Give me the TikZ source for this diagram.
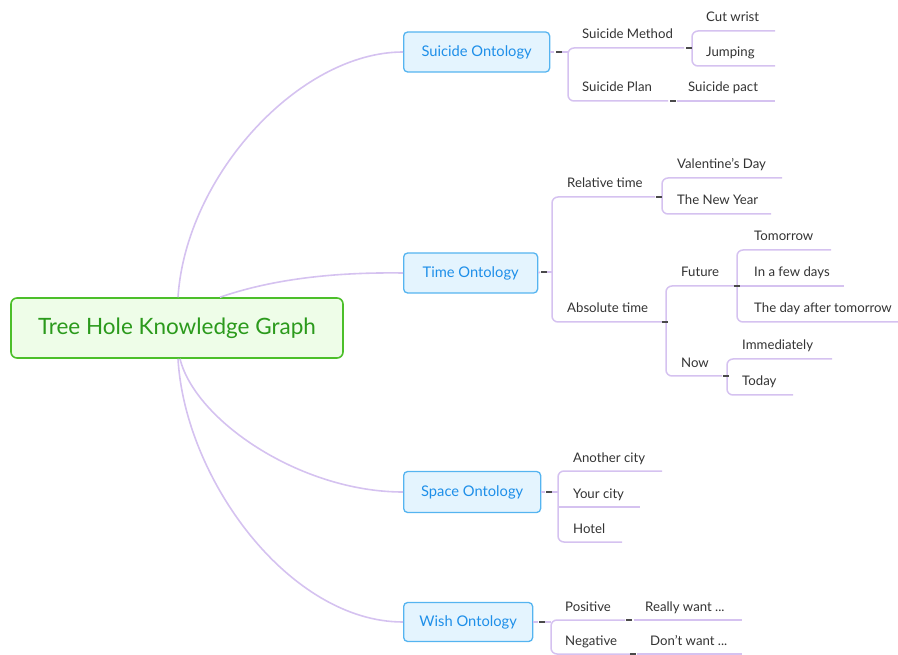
\documentclass[tikz,border=0pt]{standalone}
\usepackage{fontspec}
\setmainfont{Lato}
\usetikzlibrary{calc}
\definecolor{branch}{HTML}{D5C2F0}
\definecolor{foldink}{HTML}{4A4A4A}
\definecolor{leafink}{HTML}{333333}
\definecolor{topicfill}{HTML}{E4F4FE}
\definecolor{topicline}{HTML}{55B4F0}
\definecolor{topicink}{HTML}{1E8FE9}
\definecolor{rootfill}{HTML}{EEFDE8}
\definecolor{rootline}{HTML}{4CBF2A}
\definecolor{rootink}{HTML}{2B9A1C}
\begin{document}
\begin{tikzpicture}[x=1pt,y=-1pt,
  leaf/.style={anchor=base west, inner sep=0pt, text=leafink, font=\fontsize{13.2}{15}\selectfont},
  topic/.style={draw=topicline, fill=topicfill, rounded corners=4pt, line width=1.3pt,
    text=topicink, inner sep=0pt, minimum height=40pt, anchor=west, font=\fontsize{14.7}{17}\selectfont},
  rootbox/.style={draw=rootline, fill=rootfill, rounded corners=6pt, line width=1.6pt,
    text=rootink, inner sep=0pt, minimum width=332pt, minimum height=60pt, font=\fontsize{22.5}{26}\selectfont},
  limb/.style={draw=branch, line width=1.6pt},
  bracket/.style={draw=branch, line width=1.5pt, rounded corners=6pt},
  fold/.style={draw=foldink, line width=1.8pt},
]
\useasboundingbox (0,0) rectangle (898,655);

% central topic and the four main topics
\node[rootbox] (root) at (177,328) {Tree Hole Knowledge Graph};
\node[topic, minimum width=146pt] (sui) at (403,52) {Suicide Ontology};
\node[topic, minimum width=134pt] (time) at (403,273) {Time Ontology};
\node[topic, minimum width=137pt, minimum height=41pt] (space) at (403,492) {Space Ontology};
\node[topic, minimum width=129pt, minimum height=39pt] (wish) at (403,622) {Wish Ontology};

% curved limbs from the central topic
\draw[limb] ($(root.north)+(1,0)$) .. controls (186,175) and (300,52) .. (sui.west);
\draw[limb] ($(root.north)+(43,0)$) .. controls (270,280) and (330,272) .. (time.west);
\draw[limb] ($(root.south)+(3,0)$) .. controls (195,420) and (300,492) .. (space.west);
\draw[limb] ($(root.south)+(1,0)$) .. controls (185,480) and (290,622) .. (wish.west);

% fold marker positions
\foreach \n/\x/\y in {k0/559/52, k1/689/48, k2/673/101,
                      t0/544/272, t1/659/197, t2/665/322, t3/737/286, t4/726/376,
                      s0/549/492, w0/542/622, w1/629/620, w2/633/654}
  \coordinate (\n) at (\x,\y);

% ---------- Suicide Ontology ----------
\draw[limb] (sui.east) -- ($(k0)+(-5,0)$);
\draw[bracket] (684,48) -- (568,48) -- (568,101) -- (668,101);
\draw[limb] ($(k0)+(3,0)$) -- (568,52);
\node[leaf] (sm) at (582,39) {Suicide Method};
\node[leaf] (sp) at (582,92) {Suicide Plan};

\draw[bracket] (775,31) -- (692,31) -- (692,66) -- (775,66);
\node[leaf] (cw) at (706,22) {Cut wrist};
\node[leaf] (jp) at (706,57) {Jumping};

\draw[limb] ($(k2)+(4,0)$) -- (775,101);
\node[leaf] (pact) at (688,92) {Suicide pact};

% ---------- Time Ontology ----------
\draw[limb] (time.east) -- ($(t0)+(-4,0)$);
\draw[bracket] (655,197) -- (552,197) -- (552,322) -- (662,322);
\draw[limb] ($(t0)+(3,0)$) -- (552,272);
\node[leaf] (rel) at (567,188) {Relative time};
\node[leaf] (abs) at (567,313) {Absolute time};

\draw[bracket] (782,178) -- (662,178) -- (662,214) -- (771,214);
\node[leaf] (val) at (677,169) {Valentine's Day};
\node[leaf] (ny) at (677,205) {The New Year};

\draw[bracket] (735,286) -- (666,286) -- (666,376) -- (722,376);
\node[leaf] (fut) at (681,277) {Future};
\node[leaf] (now) at (681,367) {Now};

\draw[bracket] (831,250) -- (737,250) -- (737,322) -- (898,322);
\draw[limb] (737,286) -- (844,286);
\node[leaf] (tom) at (754,241) {Tomorrow};
\node[leaf] (few) at (754,277) {In a few days};
\node[leaf] (dat) at (754,313) {The day after tomorrow};

\draw[bracket] (832,359) -- (727,359) -- (727,395) -- (793,395);
\node[leaf] (imm) at (742,350) {Immediately};
\node[leaf] (tod) at (742,386) {Today};

% ---------- Space Ontology ----------
\draw[limb] (space.east) -- ($(s0)+(-4,0)$);
\draw[bracket] (662,471) -- (558,471) -- (558,542) -- (622,542);
\draw[limb] (558,507) -- (640,507);
\draw[limb] ($(s0)+(3,0)$) -- (558,492);
\node[leaf] (ano) at (573,462) {Another city};
\node[leaf] (your) at (573,498) {Your city};
\node[leaf] (hot) at (573,533) {Hotel};

% ---------- Wish Ontology ----------
\draw[limb] (wish.east) -- ($(w0)+(-4,0)$);
\draw[bracket] (625,620) -- (551,620) -- (551,654) -- (630,654);
\draw[limb] ($(w0)+(3,0)$) -- (551,622);
\node[leaf] (pos) at (565,611) {Positive};
\node[leaf] (neg) at (565,645) {Negative};
\draw[limb] ($(w1)+(5,0)$) -- (742,620);
\draw[limb] ($(w2)+(4,0)$) -- (742,654);
\node[leaf] (rw) at (645,611) {Really want ...};
\node[leaf] (dw) at (650,645) {Don't want ...};

% fold markers drawn over the branches
\foreach \n in {k0,k1,k2,t0,t1,t2,t3,t4,s0,w0,w1,w2}
  \draw[fold] ($(\n)+(-3,0)$) -- ($(\n)+(3,0)$);
\end{tikzpicture}
\end{document}
